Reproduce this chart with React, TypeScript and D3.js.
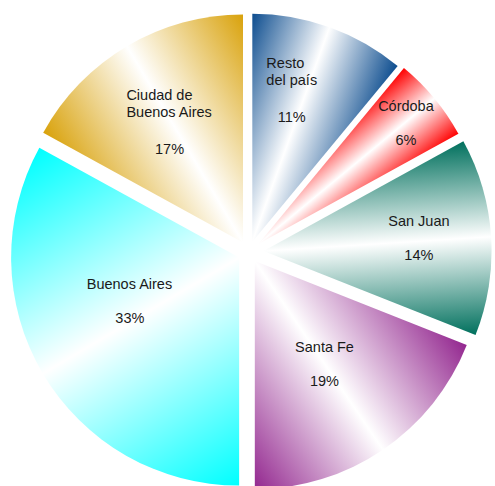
import React from "react";
import * as d3 from "d3";

const CATEGORIES = ["Resto del país", "Córdoba", "San Juan", "Santa Fe", "Buenos Aires", "Ciudad de Buenos Aires"];
const VALUES = [11, 6, 14, 19, 33, 17];
const LABEL_LINES = [["Resto", "del país"], ["Córdoba"], ["San Juan"], ["Santa Fe"], ["Buenos Aires"], ["Ciudad de", "Buenos Aires"]];
const COLORS = ["#0d4d8f", "#ff0000", "#00705d", "#93278f", "#00ffff", "#d9a20b"];
// layout: explosion per slice, label radius fraction and angular position within slice
const EXPLODE = [11, 13, 15, 11, 11, 11];
const LABEL_RADIUS = [0.666, 0.821, 0.682, 0.564, 0.525, 0.601];
const LABEL_ANGLE_FRAC = [0.38, 0.57, 0.516, 0.52, 0.555, 0.47];

const W = 495, H = 486;
const CX = 248.6, CY = 252;
const R = 228;
const FONT = '"Liberation Sans", Arial, sans-serif';
const FS = 14.5;
const LH = 16.5;

let ctx: CanvasRenderingContext2D | null = null;
function textW(s: string) {
  if (!ctx) {
    const c = document.createElement("canvas");
    ctx = c.getContext("2d");
  }
  if (!ctx) return s.length * 7;
  ctx.font = `${FS}px ${FONT}`;
  return ctx.measureText(s).width;
}

export default function App() {
  const pie = d3.pie<number>().sort(null).value((d) => d);
  const arcs = pie(VALUES);
  const arc = d3.arc<d3.PieArcDatum<number>>().innerRadius(0).outerRadius(R);

  return (
    <svg width={W} height={H} style={{ position: "absolute", left: 0, top: 0 }}>
      <defs>
        {arcs.map((a, i) => {
          const mid = (a.startAngle + a.endAngle) / 2;
          const half = (a.endAngle - a.startAngle) / 2;
          const h = R * Math.sin(Math.min(half, Math.PI / 2));
          const px = (R / 2) * Math.sin(mid), py = -(R / 2) * Math.cos(mid);
          const ux = Math.cos(mid), uy = Math.sin(mid);
          return (
            <linearGradient key={i} id={`g${i}`} gradientUnits="userSpaceOnUse"
              x1={px - h * ux} y1={py - h * uy} x2={px + h * ux} y2={py + h * uy}>
              <stop offset="0" stopColor={COLORS[i]} />
              <stop offset="0.5" stopColor="#ffffff" />
              <stop offset="1" stopColor={COLORS[i]} />
            </linearGradient>
          );
        })}
      </defs>
      {arcs.map((a, i) => {
        const mid = (a.startAngle + a.endAngle) / 2;
        const ox = CX + EXPLODE[i] * Math.sin(mid), oy = CY - EXPLODE[i] * Math.cos(mid);
        const la = a.startAngle + (a.endAngle - a.startAngle) * LABEL_ANGLE_FRAC[i];
        const lr = R * LABEL_RADIUS[i];
        const lx = lr * Math.sin(la), ly = -lr * Math.cos(la);
        const lines = LABEL_LINES[i];
        const gap = 34 + (lines.length - 1) * 3;
        const span = (lines.length - 1) * LH + gap;
        const y0 = ly - span / 2;
        const maxW = Math.max(...lines.map(textW));
        const pct = `${VALUES[i]}%`;
        return (
          <g key={CATEGORIES[i]} transform={`translate(${ox},${oy})`}>
            <path d={arc(a) || ""} fill={`url(#g${i})`} />
            <g fontFamily={FONT} fontSize={FS} fill="#1a1a1a">
              {lines.map((t, j) => (
                <text key={j} x={lx - maxW / 2} y={y0 + j * LH}>{t}</text>
              ))}
              <text x={lx} y={y0 + (lines.length - 1) * LH + gap} textAnchor="middle">{pct}</text>
            </g>
          </g>
        );
      })}
    </svg>
  );
}
